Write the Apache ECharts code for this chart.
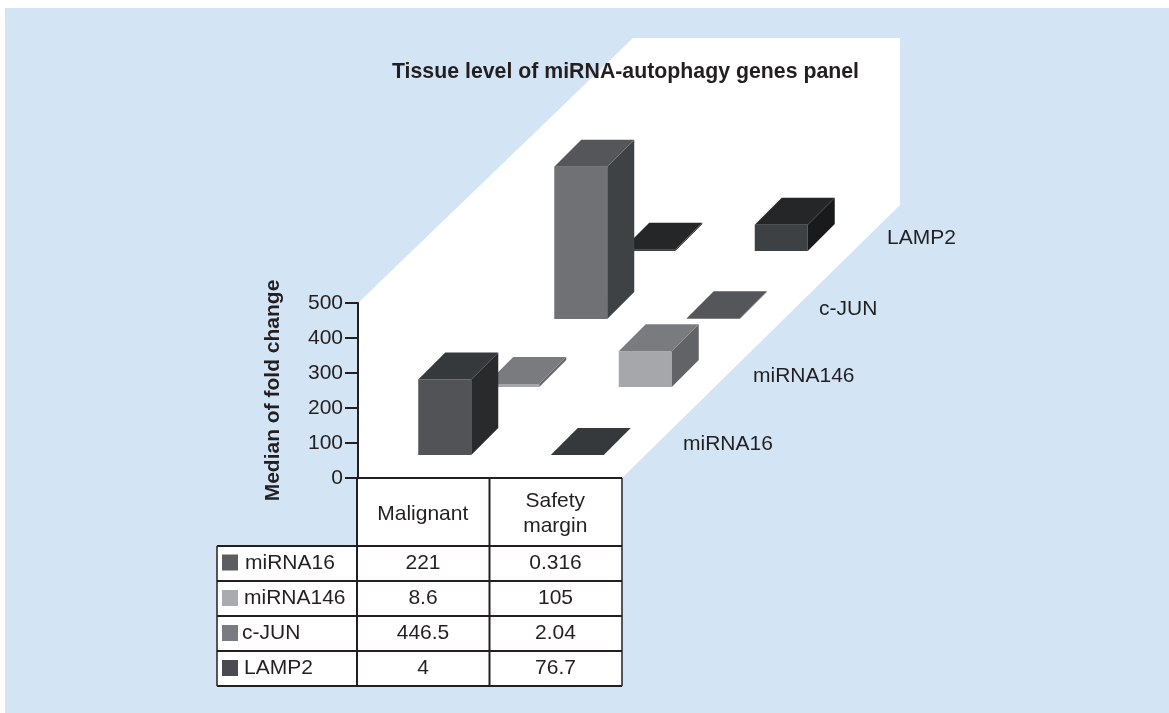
<!DOCTYPE html>
<html><head><meta charset="utf-8">
<style>html,body{margin:0;padding:0;background:#fff}#c{width:1169px;height:713px}</style>
<script src="https://cdn.jsdelivr.net/npm/echarts@6/dist/echarts.min.js"></script>
</head><body><div id="c"></div>
<script>
const categories = ['Malignant', 'Safety\nmargin'];
const genes = ['miRNA16', 'miRNA146', 'c-JUN', 'LAMP2'];
const miRNA16 = [221, 0.316];
const miRNA146 = [8.6, 105];
const cJUN = [446.5, 2.04];
const LAMP2 = [4, 76.7];
const tableText = [['221', '0.316'], ['8.6', '105'], ['446.5', '2.04'], ['4', '76.7']];
const yTicks = [0, 100, 200, 300, 400, 500];

const values = [miRNA16, miRNA146, cJUN, LAMP2];
const faces = [
  { front: '#525357', top: '#36393b', side: '#292a2c', swatch: '#5c5d62' },
  { front: '#a5a7ab', top: '#7a7b7f', side: '#626366', swatch: '#a9abaf' },
  { front: '#6f7175', top: '#55565a', side: '#3f4244', swatch: '#7a7b80' },
  { front: '#3d4144', top: '#252628', side: '#191a1c', swatch: '#4a4b50' }
];
const INK = '#231f20';
const FONT = '"Liberation Sans", Arial, sans-serif';
const STEPX = 68, STEPY = 68, W = 53, D = 27, OFFX = 20.5, OFFY = 23, HEIGHT_SCALE = 0.975;

function renderBar(params, api) {
  const depth = api.value(2);
  const c0 = api.coord([api.value(0), 0]);
  const c1 = api.coord([api.value(0), api.value(1)]);
  const h = (c0[1] - c1[1]) * HEIGHT_SCALE;
  const x = c0[0] + OFFX - W / 2 + depth * STEPX;
  const yb = c0[1] - OFFY - depth * STEPY;
  const yt = yb - h;
  const f = faces[depth];
  const poly = (pts, fill) => ({ type: 'polygon', shape: { points: pts }, style: { fill: fill } });
  return {
    type: 'group',
    children: [
      poly([[x, yb], [x + W, yb], [x + W, yt], [x, yt]], f.front),
      poly([[x + W, yb], [x + W + D, yb - D], [x + W + D, yt - D], [x + W, yt]], f.side),
      poly([[x, yt], [x + W, yt], [x + W + D, yt - D], [x + D, yt - D]], f.top)
    ]
  };
}

// back rows drawn first so nearer bars cover them
const series = [3, 2, 1, 0].map(d => ({
  type: 'custom',
  name: genes[d],
  renderItem: renderBar,
  silent: true,
  encode: { x: 0, y: 1 },
  data: categories.map((c, i) => [i, values[d][i], d])
}));

const g = [];
const colX = [217, 357, 489.5, 622];
const rowY = [478, 546, 581, 616, 651, 686];
const line = (x1, y1, x2, y2, w) => ({ type: 'line', z: 1, silent: true,
  shape: { x1, y1, x2, y2 }, style: { stroke: INK, lineWidth: w || 2 } });
const text = (x, y, t, align) => ({ type: 'text', z: 5, silent: true, x, y,
  style: { text: t, fill: INK, font: '21px ' + FONT, textAlign: align || 'center', textVerticalAlign: 'middle' } });

g.push({ type: 'rect', z: -3, silent: true, shape: { x: 5, y: 8, width: 1164, height: 705 }, style: { fill: '#d3e5f5' } });
g.push({ type: 'polygon', z: -2, silent: true,
  shape: { points: [[358, 303], [633, 38], [900, 38], [900, 205], [622, 478], [358, 478]] }, style: { fill: '#fff' } });
g.push({ type: 'rect', z: -1, silent: true, shape: { x: 357, y: 478, width: 265, height: 68 }, style: { fill: '#fff' } });
g.push({ type: 'rect', z: -1, silent: true, shape: { x: 217, y: 546, width: 405, height: 140 }, style: { fill: '#fff' } });

rowY.forEach((y, i) => g.push(line(i < 1 ? colX[1] : colX[0], y, colX[3], y)));
g.push(line(colX[0], rowY[1], colX[0], rowY[5], 1.5));
g.push(line(colX[1], rowY[0], colX[1], rowY[5]));
g.push(line(colX[2], rowY[0], colX[2], rowY[5]));
g.push(line(colX[3], rowY[0], colX[3], rowY[5], 1.5));

const labelX = [245, 244, 242, 244];
const textY = [563, 598.5, 633.5, 668.5];
genes.forEach((name, r) => {
  g.push({ type: 'rect', z: 4, silent: true, shape: { x: 222, y: textY[r] - 8.5, width: 16, height: 16 }, style: { fill: faces[r].swatch } });
  g.push(text(labelX[r], textY[r], name, 'left'));
  g.push(text(423, textY[r], tableText[r][0]));
  g.push(text(555.5, textY[r], tableText[r][1]));
});
const sideX = [683, 753, 819, 887];
const sideY = [444, 376, 309, 238];
genes.forEach((name, r) => g.push(text(sideX[r], sideY[r], name, 'left')));

const chart = echarts.init(document.getElementById('c'), null, { renderer: 'canvas' });
chart.setOption({
  animation: false,
  backgroundColor: '#fff',
  title: {
    text: 'Tissue level of miRNA-autophagy genes panel',
    left: 620.5, top: 57, textAlign: 'center',
    textStyle: { color: INK, fontFamily: FONT, fontSize: 21.3, fontWeight: 'bold' }
  },
  grid: { left: 358, right: 546, top: 303, bottom: 235 },
  xAxis: {
    type: 'category', data: categories, position: 'bottom',
    axisLine: { show: false },
    axisTick: { show: false },
    axisLabel: { interval: 0, margin: 36, verticalAlign: 'middle', lineHeight: 25, padding: [0, 3, 0, 0], color: INK, fontFamily: FONT, fontSize: 21 }
  },
  yAxis: {
    type: 'value', min: yTicks[0], max: yTicks[yTicks.length - 1], interval: 100,
    name: 'Median of fold change', nameLocation: 'middle', nameGap: 74, nameRotate: 90,
    nameTextStyle: { color: INK, fontFamily: FONT, fontSize: 21, fontWeight: 'bold' },
    axisLine: { show: true, lineStyle: { color: INK, width: 2 } },
    axisTick: { show: true, length: 13, lineStyle: { color: INK, width: 2 } },
    axisLabel: { margin: 15, color: INK, fontFamily: FONT, fontSize: 21 },
    splitLine: { show: false }
  },
  series: series,
  graphic: { elements: g }
});
</script></body></html>
